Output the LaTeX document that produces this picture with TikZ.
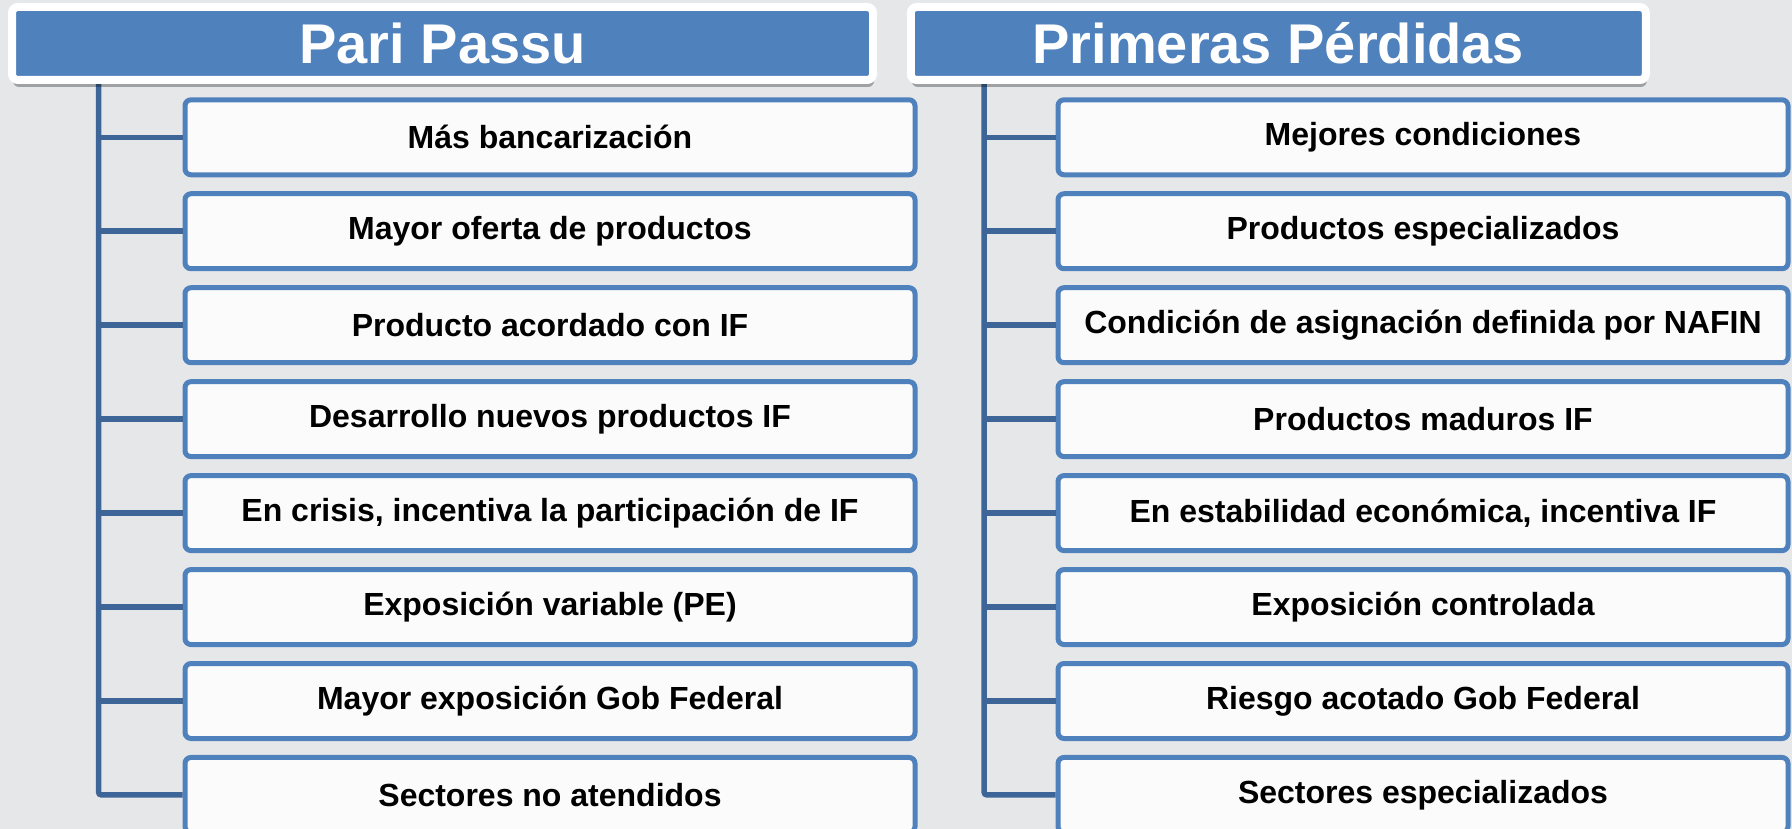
\documentclass[tikz,border=0pt]{standalone}
\usepackage{fontspec}
\setmainfont{Liberation Sans}
\usetikzlibrary{shadows}
\definecolor{bgc}{HTML}{E6E7E9}
\definecolor{ttl}{HTML}{4F81BD}
\definecolor{conc}{HTML}{3D6597}
\definecolor{boxf}{HTML}{FBFBFB}
\tikzset{
 titlebox/.style={draw=white, line width=8pt, fill=ttl, rounded corners=6pt, minimum height=73pt, text=white,
   font=\fontsize{56}{60}\selectfont\bfseries, inner sep=0pt,
   drop shadow={opacity=0.3, shadow xshift=1pt, shadow yshift=-7pt, fill=black}},
 itembox/.style={draw=ttl, line width=5pt, fill=boxf, rounded corners=6pt, minimum width=730pt,
   minimum height=75pt, inner sep=0pt, font=\fontsize{32}{36}\selectfont\bfseries},
 conn/.style={draw=conc, line width=5.5pt}
}
\begin{document}
\begin{tikzpicture}[x=1pt,y=-1pt]
\clip (0,0) rectangle (1792,829);
\fill[bgc] (0,0) rectangle (1792,829);
% left items
\foreach \i/\t [evaluate=\i as \yy using 137.3+(\i-1)*93.95] in {1/Más bancarización,2/Mayor oferta de productos,3/Producto acordado con IF,4/Desarrollo nuevos productos IF,5/{En crisis, incentiva la participación de IF},6/Exposición variable (PE),7/Mayor exposición Gob Federal,8/Sectores no atendidos}
  \node[itembox] (l\i) at (550,\yy) {\t};
\foreach \i/\t [evaluate=\i as \yy using 137.3+(\i-1)*93.95] in {1/Mejores condiciones,2/Productos especializados,3/Condición de asignación definida por NAFIN,4/Productos maduros IF,5/{En estabilidad económica, incentiva IF},6/Exposición controlada,7/Riesgo acotado Gob Federal,8/Sectores especializados}
  \node[itembox] (r\i) at (1423,\yy) {\t};
% connectors
\coordinate (lt) at (98.5,81);
\coordinate (rt) at (984,81);
\foreach \i in {1,...,7} {
  \draw[conn] (lt |- l\i.west) -- (l\i.west);
  \draw[conn] (rt |- r\i.west) -- (r\i.west);
}
\draw[conn, rounded corners=3pt] (lt) |- (l8.west);
\draw[conn, rounded corners=3pt] (rt) |- (r8.west);
% titles
\node[titlebox, minimum width=861pt] (t1) at (442.5,43.5) {Pari Passu};
\node[titlebox, minimum width=735pt] (t2) at (1278.3,43.5) {Primeras Pérdidas};
\end{tikzpicture}
\end{document}
